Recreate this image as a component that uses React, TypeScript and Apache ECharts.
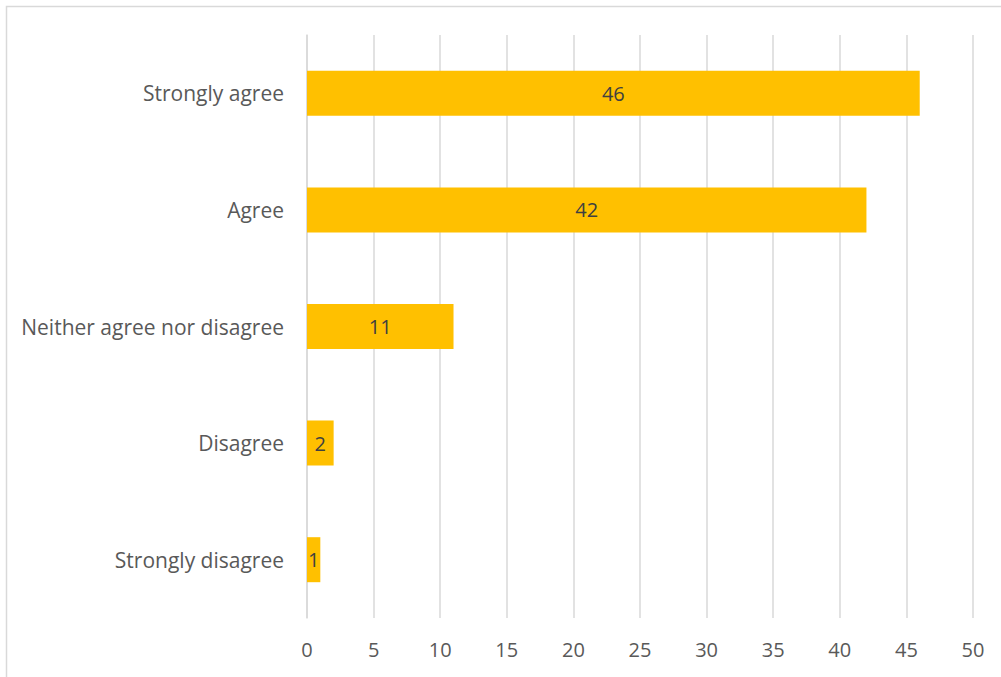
import React, { useEffect, useRef } from "react";
import * as echarts from "echarts";

const categories = [
  "Strongly agree",
  "Agree",
  "Neither agree nor disagree",
  "Disagree",
  "Strongly disagree",
];
const values = [46, 42, 11, 2, 1];
const xMin = 0;
const xMax = 50;
const xInterval = 5;

const FONT = "'Open Sans', sans-serif";

export default function App() {
  const ref = useRef<HTMLDivElement>(null);
  useEffect(() => {
    if (!ref.current) return;
    const chart = echarts.init(ref.current, undefined, { renderer: "svg" });
    chart.setOption({
      animation: false,
      backgroundColor: "#ffffff",
      graphic: [
        {
          type: "rect",
          shape: { x: 6.5, y: 6.5, width: 1010, height: 690 },
          style: { fill: "none", stroke: "#d9d9d9", lineWidth: 1.5 },
          silent: true,
        },
      ],
      grid: { left: 307, right: 28, top: 35, bottom: 59, containLabel: false },
      xAxis: {
        type: "value",
        min: xMin,
        max: xMax,
        interval: xInterval,
        axisLine: { show: false },
        axisTick: { show: false },
        splitLine: { show: true, lineStyle: { color: "#d9d9d9", width: 1.5 } },
        axisLabel: { color: "#595959", fontSize: 20, fontFamily: FONT, margin: 21 },
      },
      yAxis: {
        type: "category",
        data: categories,
        inverse: true,
        axisLine: { show: true, lineStyle: { color: "#d9d9d9", width: 1.5 } },
        axisTick: { show: false },
        axisLabel: { color: "#595959", fontSize: 21, fontFamily: FONT, margin: 23 },
      },
      series: [
        {
          type: "bar",
          data: values,
          barWidth: "38.6%",
          itemStyle: { color: "#ffc000" },
          label: {
            show: true,
            position: "inside",
            color: "#404040",
            fontSize: 20,
            fontFamily: FONT,
          },
        },
      ],
    });
    return () => chart.dispose();
  }, []);
  return (
    <div
      ref={ref}
      style={{ position: "fixed", left: 0, top: 0, width: 1001, height: 677 }}
    />
  );
}
